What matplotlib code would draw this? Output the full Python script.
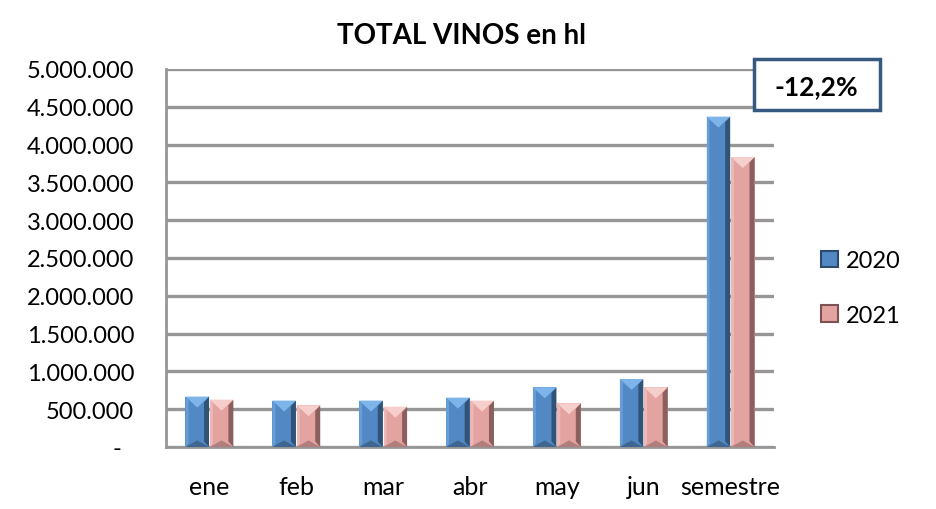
import matplotlib
matplotlib.use("Agg")
import matplotlib.pyplot as plt
from matplotlib.patches import Polygon, Rectangle, Patch
from matplotlib.ticker import FuncFormatter, MultipleLocator

plt.rcParams['font.family'] = ['Lato', 'DejaVu Sans']

# datos (hl)
meses = ["ene", "feb", "mar", "abr", "may", "jun", "semestre"]
vinos_2020 = [667000, 614000, 614000, 653000, 790000, 900000, 4370000]
vinos_2021 = [627000, 552000, 534000, 614000, 578000, 790000, 3835000]
anios = ["2020", "2021"]

colores = {
	"2020": {"mid": "#5289C4", "light": "#7DB4EA", "dark": "#2C4A6B", "bottom": "#3F6690"},
	"2021": {"mid": "#E3A3A1", "light": "#F6CFCC", "dark": "#7C5352", "bottom": "#B07F7D"},
}

variacion = (vinos_2021[-1] - vinos_2020[-1]) / vinos_2020[-1] * 100

W, H = 937, 510
fig = plt.figure(figsize=(W / 100, H / 100), dpi=100)
ax = fig.add_axes([166 / W, 1 - 448 / H, (774 - 166) / W, (448 - 70) / H])

ancho = 0.28
x = list(range(len(meses)))
ymax = 5000000
ax.set_xlim(-0.5, len(meses) - 0.5)
ax.set_ylim(0, ymax)

# unidades de datos por pixel
px_x = (len(meses)) / (774 - 166)
px_y = ymax / (448 - 70)


def biselar(barras, c):
	for b in barras:
		x0 = b.get_x()
		w = b.get_width()
		h = b.get_height()
		bx = 5 * px_x
		by = 11 * px_y
		# franja derecha oscura
		ax.add_patch(Polygon([(x0 + w - bx, by * 0.5), (x0 + w, 0), (x0 + w, h), (x0 + w - bx, h - by * 0.5)],
							 closed=True, facecolor=c["dark"], edgecolor="none", alpha=0.85, zorder=3))
		# franja izquierda clara
		ax.add_patch(Polygon([(x0, 0), (x0 + bx * 0.6, by * 0.3), (x0 + bx * 0.6, h - by * 0.3), (x0, h)],
							 closed=True, facecolor=c["light"], edgecolor="none", alpha=0.5, zorder=3))
		# triangulo superior
		ax.add_patch(Polygon([(x0, h), (x0 + w, h), (x0 + w / 2, h - by)],
							 closed=True, facecolor=c["light"], edgecolor="none", zorder=4))
		# triangulo inferior
		ax.add_patch(Polygon([(x0, 0), (x0 + w, 0), (x0 + w / 2, by * 0.6)],
							 closed=True, facecolor=c["bottom"], edgecolor="none", zorder=4))


for i, (anio, valores) in enumerate(zip(anios, [vinos_2020, vinos_2021])):
	c = colores[anio]
	pos = [xi - ancho + i * ancho + ancho / 2 for xi in x]
	barras = ax.bar(pos, valores, width=ancho * 0.97, color=c["mid"], edgecolor="none", zorder=2)
	biselar(barras, c)

ax.yaxis.set_major_locator(MultipleLocator(500000))
ax.yaxis.set_major_formatter(FuncFormatter(
	lambda v, p: "-  " if v == 0 else f"{int(v):,}".replace(",", ".")))
ax.grid(axis="y", color="#969696", linewidth=2.4, zorder=0)
ax.set_axisbelow(True)
ax.set_xticks(x)
ax.set_xticklabels(meses)
ax.tick_params(axis="both", length=0)
ax.tick_params(axis="y", pad=23, labelsize=17)
ax.tick_params(axis="x", pad=20, labelsize=18)

for s in ["top", "right"]:
	ax.spines[s].set_visible(False)
for s in ["left", "bottom"]:
	ax.spines[s].set_color("#969696")
	ax.spines[s].set_linewidth(2)

fig.text(462 / W, 1 - 36 / H, "TOTAL VINOS en hl", ha="center", va="center",
		 fontsize=20, fontweight="bold")

# recuadro de variacion
fig.add_artist(Rectangle((754 / W, 1 - 111 / H), (880 - 754) / W, (111 - 60) / H,
						 transform=fig.transFigure, facecolor="white", edgecolor="#35597F",
						 linewidth=2.5, zorder=5))
fig.text(816 / W, 1 - 87 / H, f"{variacion:.1f}%".replace(".", ","), ha="center", va="center",
		 fontsize=19, fontweight="bold", zorder=6)

handles = [Patch(facecolor=colores[a]["mid"], edgecolor=colores[a]["dark"], linewidth=1.5) for a in anios]
fig.legend(handles, anios, loc="center left", bbox_to_anchor=(800 / W, 1 - 289 / H),
		   frameon=False, fontsize=17, handlelength=0.7, handleheight=0.7,
		   handletextpad=0.35, labelspacing=1.4)

fig.savefig("out.png", dpi=100)
